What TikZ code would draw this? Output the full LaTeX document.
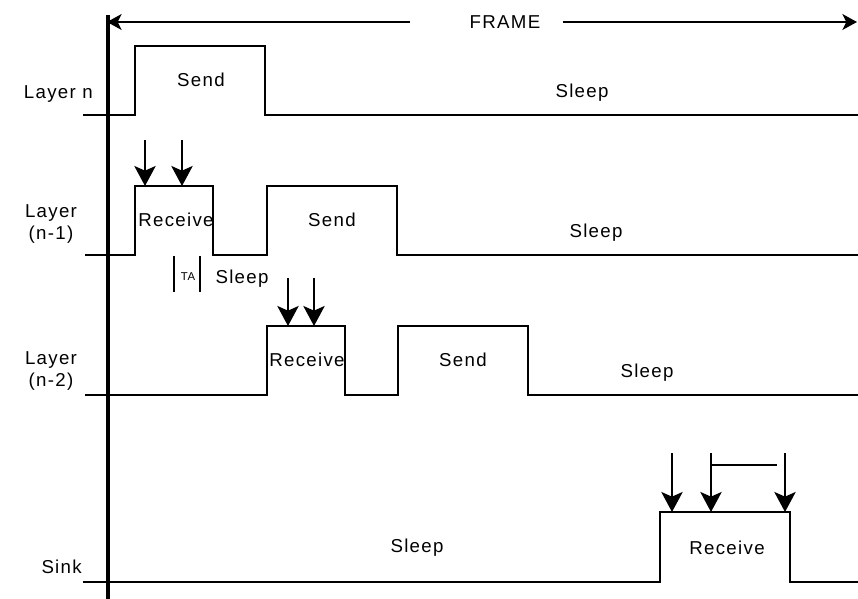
\documentclass[tikz,border=0pt]{standalone}
\usepackage{fontspec}
\setmainfont{Liberation Sans}[LetterSpace=7]
\usetikzlibrary{arrows.meta}

\begin{document}
\begin{tikzpicture}[x=0.75pt,y=-0.75pt,font=\fontsize{14}{16.5}\selectfont,
    wave/.style={line width=1.7pt,line join=miter},
    pkt/.style={-{Stealth[length=15pt,width=16pt,inset=3.5pt]},line width=1.5pt},
    frm/.style={-{Stealth[length=11pt,width=12pt,inset=3pt]},line width=1.1pt},
    lbl/.style={inner sep=0pt,align=center}]
  \useasboundingbox (0,0) rectangle (858,599);
  % time axis and frame
  \draw[line width=3pt] (108,15) -- (108,599);
  \node[inner sep=0pt] (frame) at (505,22) {FRAME};
  \coordinate (fl) at (107,22);
  \coordinate (fr) at (857,22);
  \draw[frm] (410,22) -- (fl);
  \draw[frm] (563,22) -- (fr);
  % row labels
  \node[lbl,anchor=east] (ln) at (93,94) {Layer n};
  \node[lbl] (ln1) at (51,224) {Layer\\(n-1)};
  \node[lbl] (ln2) at (51,371) {Layer\\(n-2)};
  \node[lbl,anchor=east] (sink) at (82,567) {Sink};
  % layer n
  \draw[wave] (83,115) -- (135,115) -- (135,46) -- (265,46) -- (265,115) -- (858,115);
  \node (sendn) at (201,80) {Send};
  \node (sleepn) at (582,93) {Sleep};
  % layer n-1
  \draw[wave] (85,255) -- (135,255) -- (135,186) -- (213,186) -- (213,255) -- (267,255)
    -- (267,186) -- (397,186) -- (397,255) -- (858,255);
  \node[inner sep=0pt] (recv1) at (176,220) {Receive};
  \node (send1) at (332,220) {Send};
  \node (sleep1) at (596,233) {Sleep};
  \foreach \x in {145,182}
    \draw[pkt] (\x,140) -- (\x,186);
  \draw[line width=1.8pt] (174,256) -- (174,292);
  \draw[line width=1.8pt] (200,256) -- (200,292);
  \node[inner sep=0pt,font=\fontsize{8.5}{9}\selectfont] (ta) at (188,277) {TA};
  \node (sleepta) at (242,279) {Sleep};
  % layer n-2
  \draw[wave] (85,395) -- (267,395) -- (267,326) -- (345,326) -- (345,395) -- (398,395)
    -- (398,326) -- (528,326) -- (528,395) -- (858,395);
  \node[inner sep=0pt] (recv2) at (307,360) {Receive};
  \node (send2) at (463,360) {Send};
  \node (sleep2) at (647,373) {Sleep};
  \foreach \x in {288,314}
    \draw[pkt] (\x,278) -- (\x,326);
  % sink
  \draw[wave] (83,582) -- (660,582) -- (660,512) -- (790,512) -- (790,582) -- (858,582);
  \node (recvs) at (727,548) {Receive};
  \node (sleeps) at (417,548) {Sleep};
  \foreach \x in {672,711,785}
    \draw[pkt] (\x,453) -- (\x,512);
  \draw[line width=1.8pt] (711,465) -- (777,465);
\end{tikzpicture}
\end{document}
